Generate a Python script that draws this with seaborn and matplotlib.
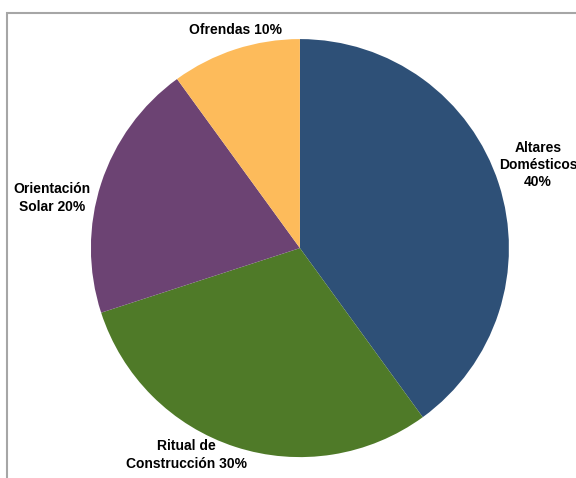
import matplotlib
matplotlib.use("Agg")
import matplotlib.pyplot as plt
from matplotlib.patches import Rectangle
import numpy as np
import seaborn as sns

# Data
categories = ["Altares\nDomésticos", "Ritual de\nConstrucción", "Orientación\nSolar", "Ofrendas"]
shares = [40, 30, 20, 10]
label_texts = ["Altares\nDomésticos\n40%", "Ritual de\nConstrucción 30%",
               "Orientación\nSolar 20%", "Ofrendas 10%"]
colors = ["#2E5077", "#4F7A28", "#6C4373", "#FDBB5B"]

# Label placement: radial distance and angular nudge (degrees) per slice
label_dist = [1.206, 1.128, 1.211, 1.088]
label_nudge = [1.2, -10.7, 6.6, -1.5]

sns.set_theme(style="white")
plt.rcParams["font.family"] = ["Liberation Sans", "DejaVu Sans"]

fig = plt.figure(figsize=(5.76, 4.78), dpi=100)
ax = fig.add_axes([0, 0, 1, 1])

wedges, _ = ax.pie(shares, colors=colors, startangle=90, counterclock=False,
                   radius=1.0, wedgeprops=dict(linewidth=0))

for w, txt, d, nudge in zip(wedges, label_texts, label_dist, label_nudge):
    mid = np.deg2rad((w.theta1 + w.theta2) / 2 + nudge)
    ax.text(d * np.cos(mid), d * np.sin(mid), txt, ha="center", va="center",
            fontsize=10, fontweight="bold", color="black", linespacing=1.3)

ax.set_xlim(-1.435, 1.321)
ax.set_ylim(-1.100, 1.187)
ax.set_aspect("auto")
ax.axis("off")

# Chart frame
fig.patches.append(Rectangle((7 / 576, -0.1), 1.2, 1.1 - 13 / 478 + 0.0,
                             transform=fig.transFigure, fill=False,
                             edgecolor="#A6A6A6", linewidth=1.5))

fig.savefig("out.png", dpi=100, facecolor="white")
